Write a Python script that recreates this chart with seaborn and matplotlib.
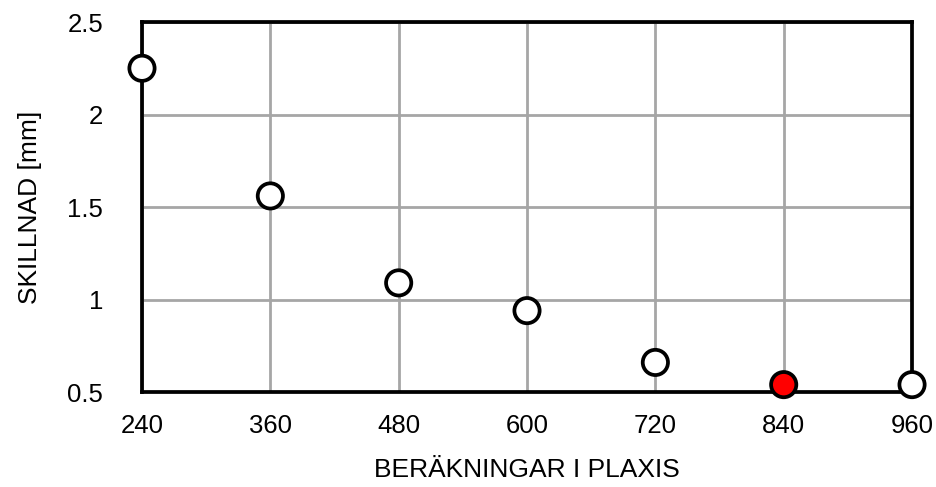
import matplotlib
matplotlib.use("Agg")
import matplotlib.pyplot as plt
import seaborn as sns
import pandas as pd

berakningar = [240, 360, 480, 600, 720, 840, 960]
skillnad = [2.25, 1.56, 1.09, 0.94, 0.66, 0.54, 0.54]
fill_colors = ["white", "white", "white", "white", "white", "red", "white"]
x_ticks = [240, 360, 480, 600, 720, 840, 960]
y_ticks = [0.5, 1.0, 1.5, 2.0, 2.5]
y_tick_labels = ["0.5", "1", "1.5", "2", "2.5"]

sns.set_style("white")
plt.rcParams['font.family'] = ['Liberation Sans', 'DejaVu Sans']

df = pd.DataFrame({"x": berakningar, "y": skillnad, "c": fill_colors})

fig = plt.figure(figsize=(9.36, 4.87), dpi=100)
ax = fig.add_axes([0.1517, 0.195, 0.8227, 0.7598])

sns.scatterplot(data=df, x="x", y="y", hue="c",
                palette={"white": "white", "red": "red"},
                s=330, edgecolor="black", linewidth=2.7,
                legend=False, ax=ax, zorder=5, clip_on=False)

ax.set_xlim(240, 960)
ax.set_ylim(0.5, 2.5)
ax.set_xticks(x_ticks)
ax.set_xticklabels([str(v) for v in x_ticks])
ax.set_yticks(y_ticks)
ax.set_yticklabels(y_tick_labels)
ax.grid(True, color="#A6A6A6", linewidth=2.0)
ax.set_axisbelow(True)
for sp in ax.spines.values():
    sp.set_color("black")
    sp.set_linewidth(2.7)
    sp.set_zorder(3)
ax.tick_params(axis="both", length=0, labelsize=18.5, colors="black")
ax.tick_params(axis="x", pad=16)
ax.tick_params(axis="y", pad=28)
ax.set_xlabel("BERÄKNINGAR I PLAXIS", fontsize=19, labelpad=14, color="black")
ax.set_ylabel("SKILLNAD [mm]", fontsize=19, labelpad=18, color="black")

fig.savefig("out.png", dpi=100)
